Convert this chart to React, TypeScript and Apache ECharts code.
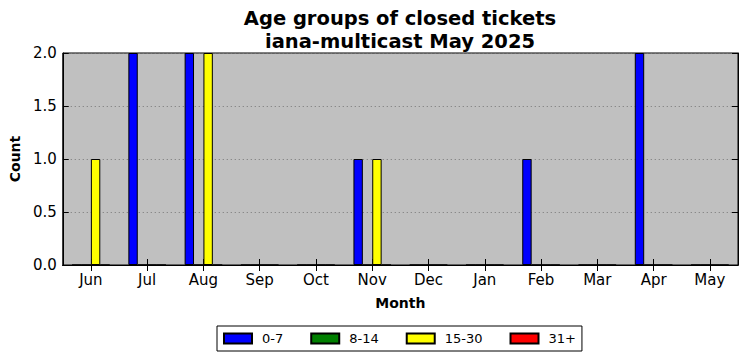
import React, { useEffect, useRef } from 'react';
import * as echarts from 'echarts';

const months = ['Jun', 'Jul', 'Aug', 'Sep', 'Oct', 'Nov', 'Dec', 'Jan', 'Feb', 'Mar', 'Apr', 'May'];
const age0to7 = [0, 2, 2, 0, 0, 1, 0, 0, 1, 0, 2, 0];
const age8to14 = [0, 0, 0, 0, 0, 0, 0, 0, 0, 0, 0, 0];
const age15to30 = [1, 0, 2, 0, 0, 1, 0, 0, 0, 0, 0, 0];
const age31plus = [0, 0, 0, 0, 0, 0, 0, 0, 0, 0, 0, 0];
const seriesNames = ['0-7', '8-14', '15-30', '31+'];
const seriesColors = ['#0000ff', '#008000', '#ffff00', '#ff0000'];
const seriesData = [age0to7, age8to14, age15to30, age31plus];
const yMin = 0;
const yMax = 2;
const yInterval = 0.5;

const FONT = 'DejaVu Sans';

export default function App() {
  const ref = useRef<HTMLDivElement>(null);
  useEffect(() => {
    document.body.style.margin = '0';
    const chart = echarts.init(ref.current!, undefined, { renderer: 'svg' });
    const tickInside = { show: true, inside: true, length: 6, alignWithLabel: true, lineStyle: { color: '#000', width: 1 } };
    chart.setOption({
      animation: false,
      textStyle: { fontFamily: FONT },
      title: {
        text: 'Age groups of closed tickets\niana-multicast May 2025',
        left: 395,
        top: 2,
        textAlign: 'center',
        textStyle: { fontFamily: FONT, fontWeight: 'bold', fontSize: 19.5, lineHeight: 23, color: '#000' },
      },
      legend: {
        left: 217,
        top: 326,
        padding: [6, 6, 6, 6],
        borderColor: '#000',
        borderWidth: 1,
        icon: 'rect',
        itemWidth: 28,
        itemHeight: 10,
        itemGap: 27,
        textStyle: { fontFamily: FONT, fontSize: 13, color: '#000', padding: [0, 0, 0, 5] },
        data: seriesNames,
      },
      grid: {
        left: 62,
        right: 9,
        top: 53,
        bottom: 96,
        show: true,
        backgroundColor: '#c0c0c0',
        borderColor: '#000',
        borderWidth: 1,
      },
      xAxis: [
        {
          type: 'category',
          data: months,
          position: 'bottom',
          name: 'Month',
          nameLocation: 'middle',
          nameGap: 31,
          nameTextStyle: { fontFamily: FONT, fontWeight: 'bold', fontSize: 14, color: '#000' },
          axisLine: { show: true, lineStyle: { color: '#000' } },
          axisTick: tickInside,
          axisLabel: { fontFamily: FONT, fontSize: 15, color: '#000', margin: 7 },
          splitLine: { show: false },
        },
        {
          type: 'category',
          data: months,
          position: 'top',
          axisLine: { show: true, lineStyle: { color: '#000' } },
          axisTick: tickInside,
          axisLabel: { show: false },
          splitLine: { show: false },
        },
      ],
      yAxis: [
        {
          type: 'value',
          min: yMin,
          max: yMax,
          interval: yInterval,
          position: 'left',
          name: 'Count',
          nameLocation: 'middle',
          nameGap: 37,
          nameTextStyle: { fontFamily: FONT, fontWeight: 'bold', fontSize: 14, color: '#000' },
          axisLine: { show: true, lineStyle: { color: '#000' } },
          axisTick: { show: true, inside: true, length: 6, lineStyle: { color: '#000' } },
          axisLabel: { fontFamily: FONT, fontSize: 15, color: '#000', margin: 6, formatter: (v: number) => v.toFixed(1) },
          splitLine: { show: true, lineStyle: { color: '#777', type: [1, 3], width: 1 } },
        },
        {
          type: 'value',
          min: yMin,
          max: yMax,
          interval: yInterval,
          position: 'right',
          axisLine: { show: true, lineStyle: { color: '#000' } },
          axisTick: { show: true, inside: true, length: 6, lineStyle: { color: '#000' } },
          axisLabel: { show: false },
          splitLine: { show: false },
        },
      ],
      series: seriesNames.map((name, i) => ({
        name,
        type: 'bar',
        xAxisIndex: 0,
        yAxisIndex: 0,
        data: seriesData[i],
        barWidth: 9.4,
        barGap: '0%',
        itemStyle: { color: seriesColors[i], borderColor: '#000', borderWidth: 1 },
      })),
    });
    return () => chart.dispose();
  }, []);
  return <div ref={ref} style={{ width: 747, height: 361 }} />;
}
